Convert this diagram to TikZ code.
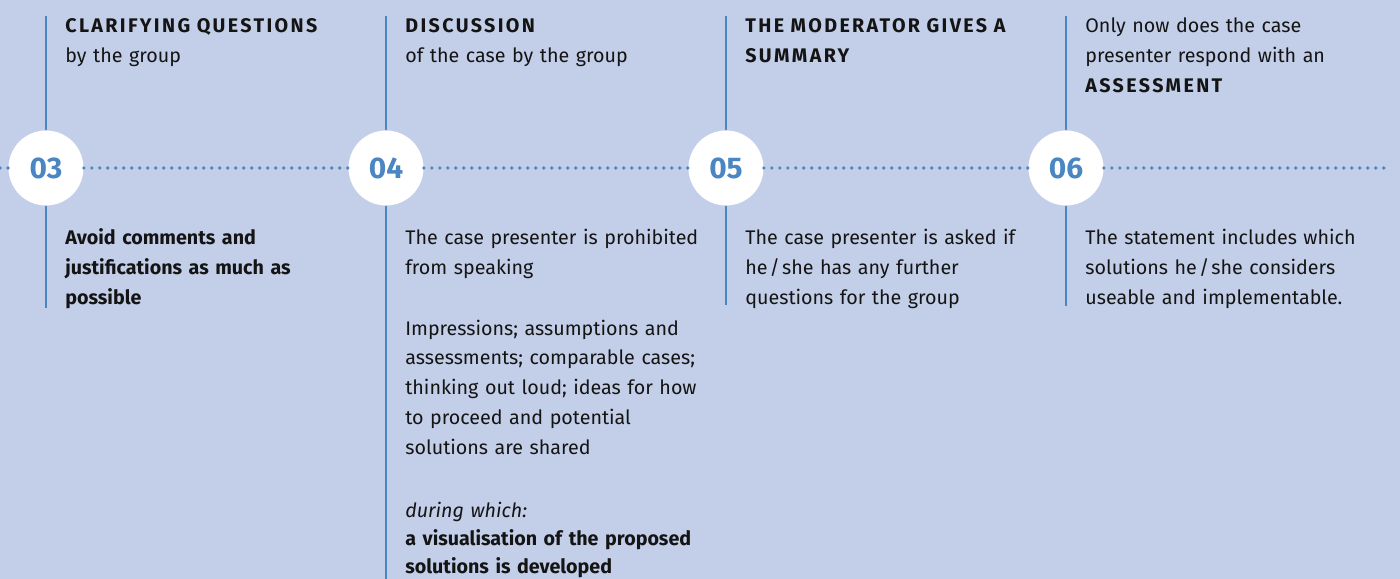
\documentclass[tikz,border=0pt]{standalone}
\usepackage{fontspec}
\setmainfont{Fira Sans}
\newfontfamily\spacedfont[LetterSpace=12]{Fira Sans}
\usetikzlibrary{positioning}
\definecolor{bgblue}{HTML}{C3CEE8}
\definecolor{lineblue}{HTML}{4A86C1}
\definecolor{ink}{HTML}{141414}
\newcommand{\capstxt}[1]{{\spacedfont\bfseries #1}}
\newcommand{\slashsep}{\kern1.2pt/\kern1.2pt}
\tikzset{
stage/.style={circle, fill=white, minimum size=1.5cm, inner sep=0pt,
  text=lineblue, font=\fontsize{17}{17}\selectfont\bfseries}, % numbered circles
rail/.style={draw=lineblue, line width=1.15pt}, % vertical rules
dots/.style={draw=lineblue, line width=2.1pt, line cap=round,
  dash pattern=on 0pt off 4.55pt}, % the dotted time line
txt/.style={anchor=base west, inner sep=0pt, text width=6.4cm, align=left,
  text=ink, font=\fontsize{11.2}{17}\selectfont},
node distance=6.8cm, % centre to centre of two circles
}

\begin{document}
\begin{tikzpicture}
  \clip (0,0) rectangle (28,-11.58);
  \fill[bgblue] (0,0) rectangle (28,-11.58);

  % rules first, the circles cover them
  \node[stage] (s3) at (0.92,-3.36) {03};
  \node[stage, right of=s3] (s4) {04};
  \node[stage, right of=s4] (s5) {05};
  \node[stage, right of=s5] (s6) {06};

  \coordinate[above=2.29cm of s3] (t3);
  \coordinate[above=2.29cm of s4] (t4);
  \coordinate[above=2.29cm of s5] (t5);
  \coordinate[above=2.29cm of s6] (t6);
  \coordinate[below=2.05cm of s3] (b3);
  \coordinate[below=7.6cm of s4] (b4);
  \coordinate[below=1.99cm of s5] (b5);
  \coordinate[below=2.01cm of s6] (b6);
  \coordinate (lend) at (0,-3.36);
  \coordinate (rend) at (27.74,-3.36);

  \draw[rail] (t3) -- (s3) (s3) -- (b3)
              (t4) -- (s4) (s4) -- (b4)
              (t5) -- (s5) (s5) -- (b5)
              (t6) -- (s6) (s6) -- (b6);
  \draw[dots] (lend) -- (s3) (s3) -- (s4) (s4) -- (s5) (s5) -- (s6) (s6) -- (rend);

  % texts above the line
  \node[txt] (h3) at (1.3,-0.66) {\capstxt{CLARIFYING QUESTIONS}\\by the group};
  \node[txt] (h4) at (8.1,-0.66) {\capstxt{DISCUSSION}\\of the case by the group};
  \node[txt] (h5) at (14.9,-0.66) {\capstxt{THE MODERATOR GIVES A}\\\capstxt{SUMMARY}};
  \node[txt] (h6) at (21.7,-0.66) {Only now does the case\\presenter respond with an\\\capstxt{ASSESSMENT}};

  % texts below the line
  \node[txt, font=\fontsize{11.2}{17}\selectfont\bfseries] (d3) at (1.3,-4.9)
    {Avoid comments and\\justifications as much as\\possible};
  \node[txt] (d4) at (8.1,-4.9) {The case presenter is prohibited\\from speaking};
  \node[txt] (e4) at (8.1,-6.7) {Impressions; assumptions and\\assessments; comparable cases;\\thinking out loud; ideas for how\\to proceed and potential\\solutions are shared};
  \node[txt, font=\fontsize{11.2}{16}\selectfont] (f4) at (8.1,-10.34)
    {\textit{during which:}\\\textbf{a visualisation of the proposed}\\\textbf{solutions is developed}};
  \node[txt] (d5) at (14.9,-4.9) {The case presenter is asked if\\he\slashsep she has any further\\questions for the group};
  \node[txt] (d6) at (21.7,-4.9) {The statement includes which\\solutions he\slashsep she considers\\useable and implementable.};
\end{tikzpicture}
\end{document}
